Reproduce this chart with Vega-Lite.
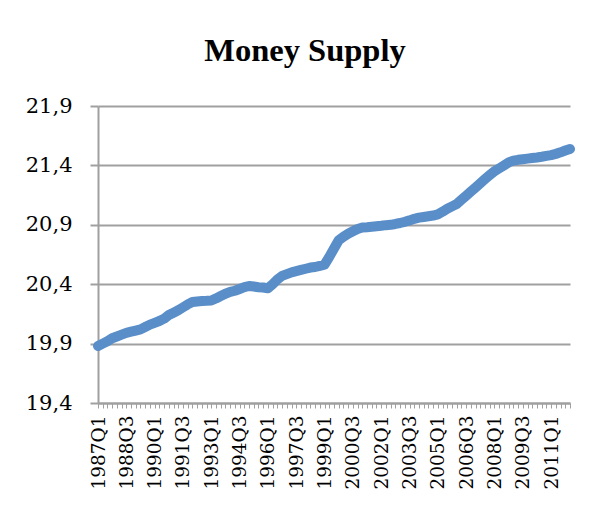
{
  "$schema": "https://vega.github.io/schema/vega-lite/v6.json",
  "autosize": {"type": "none"},
  "padding": {"left": 98, "top": 106, "right": 29, "bottom": 103},
  "width": 472,
  "height": 297,
  "background": "white",
  "title": {
    "text": "Money Supply",
    "font": "Liberation Serif",
    "fontSize": 32.5,
    "fontWeight": "bold",
    "color": "black",
    "anchor": "middle",
    "baseline": "alphabetic",
    "offset": 2,
    "dx": -29
  },
  "config": {"view": {"stroke": null}},
  "data": {
    "values": [
      {"quarter": "1987Q1", "value": 19.88},
      {"quarter": "1987Q2", "value": 19.9},
      {"quarter": "1987Q3", "value": 19.92},
      {"quarter": "1987Q4", "value": 19.945},
      {"quarter": "1988Q1", "value": 19.96},
      {"quarter": "1988Q2", "value": 19.975},
      {"quarter": "1988Q3", "value": 19.99},
      {"quarter": "1988Q4", "value": 20.0},
      {"quarter": "1989Q1", "value": 20.01},
      {"quarter": "1989Q2", "value": 20.02},
      {"quarter": "1989Q3", "value": 20.04},
      {"quarter": "1989Q4", "value": 20.06},
      {"quarter": "1990Q1", "value": 20.075},
      {"quarter": "1990Q2", "value": 20.09},
      {"quarter": "1990Q3", "value": 20.11},
      {"quarter": "1990Q4", "value": 20.14},
      {"quarter": "1991Q1", "value": 20.16},
      {"quarter": "1991Q2", "value": 20.18},
      {"quarter": "1991Q3", "value": 20.205},
      {"quarter": "1991Q4", "value": 20.23},
      {"quarter": "1992Q1", "value": 20.25},
      {"quarter": "1992Q2", "value": 20.255},
      {"quarter": "1992Q3", "value": 20.258},
      {"quarter": "1992Q4", "value": 20.26},
      {"quarter": "1993Q1", "value": 20.263},
      {"quarter": "1993Q2", "value": 20.28},
      {"quarter": "1993Q3", "value": 20.3},
      {"quarter": "1993Q4", "value": 20.32},
      {"quarter": "1994Q1", "value": 20.335},
      {"quarter": "1994Q2", "value": 20.345},
      {"quarter": "1994Q3", "value": 20.36},
      {"quarter": "1994Q4", "value": 20.375},
      {"quarter": "1995Q1", "value": 20.385},
      {"quarter": "1995Q2", "value": 20.38},
      {"quarter": "1995Q3", "value": 20.375},
      {"quarter": "1995Q4", "value": 20.372},
      {"quarter": "1996Q1", "value": 20.365},
      {"quarter": "1996Q2", "value": 20.4},
      {"quarter": "1996Q3", "value": 20.44},
      {"quarter": "1996Q4", "value": 20.47},
      {"quarter": "1997Q1", "value": 20.485},
      {"quarter": "1997Q2", "value": 20.5},
      {"quarter": "1997Q3", "value": 20.51},
      {"quarter": "1997Q4", "value": 20.52},
      {"quarter": "1998Q1", "value": 20.53},
      {"quarter": "1998Q2", "value": 20.54},
      {"quarter": "1998Q3", "value": 20.545},
      {"quarter": "1998Q4", "value": 20.555},
      {"quarter": "1999Q1", "value": 20.565},
      {"quarter": "1999Q2", "value": 20.63},
      {"quarter": "1999Q3", "value": 20.7},
      {"quarter": "1999Q4", "value": 20.77},
      {"quarter": "2000Q1", "value": 20.8},
      {"quarter": "2000Q2", "value": 20.825},
      {"quarter": "2000Q3", "value": 20.845},
      {"quarter": "2000Q4", "value": 20.865},
      {"quarter": "2001Q1", "value": 20.877},
      {"quarter": "2001Q2", "value": 20.88},
      {"quarter": "2001Q3", "value": 20.884},
      {"quarter": "2001Q4", "value": 20.888},
      {"quarter": "2002Q1", "value": 20.892},
      {"quarter": "2002Q2", "value": 20.897},
      {"quarter": "2002Q3", "value": 20.9},
      {"quarter": "2002Q4", "value": 20.907},
      {"quarter": "2003Q1", "value": 20.915},
      {"quarter": "2003Q2", "value": 20.925},
      {"quarter": "2003Q3", "value": 20.937},
      {"quarter": "2003Q4", "value": 20.95},
      {"quarter": "2004Q1", "value": 20.96},
      {"quarter": "2004Q2", "value": 20.966},
      {"quarter": "2004Q3", "value": 20.972},
      {"quarter": "2004Q4", "value": 20.978},
      {"quarter": "2005Q1", "value": 20.988},
      {"quarter": "2005Q2", "value": 21.01},
      {"quarter": "2005Q3", "value": 21.035},
      {"quarter": "2005Q4", "value": 21.055},
      {"quarter": "2006Q1", "value": 21.075},
      {"quarter": "2006Q2", "value": 21.11},
      {"quarter": "2006Q3", "value": 21.145},
      {"quarter": "2006Q4", "value": 21.18},
      {"quarter": "2007Q1", "value": 21.215},
      {"quarter": "2007Q2", "value": 21.25},
      {"quarter": "2007Q3", "value": 21.285},
      {"quarter": "2007Q4", "value": 21.32},
      {"quarter": "2008Q1", "value": 21.35},
      {"quarter": "2008Q2", "value": 21.375},
      {"quarter": "2008Q3", "value": 21.4},
      {"quarter": "2008Q4", "value": 21.425},
      {"quarter": "2009Q1", "value": 21.44},
      {"quarter": "2009Q2", "value": 21.447},
      {"quarter": "2009Q3", "value": 21.452},
      {"quarter": "2009Q4", "value": 21.457},
      {"quarter": "2010Q1", "value": 21.462},
      {"quarter": "2010Q2", "value": 21.467},
      {"quarter": "2010Q3", "value": 21.473},
      {"quarter": "2010Q4", "value": 21.48},
      {"quarter": "2011Q1", "value": 21.487},
      {"quarter": "2011Q2", "value": 21.497},
      {"quarter": "2011Q3", "value": 21.51},
      {"quarter": "2011Q4", "value": 21.525},
      {"quarter": "2012Q1", "value": 21.538}
    ]
  },
  "mark": {
    "type": "line",
    "color": "#5a8ec8",
    "strokeWidth": 10,
    "strokeCap": "round",
    "strokeJoin": "round"
  },
  "encoding": {
    "x": {
      "field": "quarter",
      "type": "ordinal",
      "sort": null,
      "scale": {"type": "point", "padding": 0},
      "title": null,
      "axis": {
        "labelAngle": -90,
        "labelFont": "DejaVu Serif",
        "labelFontSize": 18.5,
        "labelColor": "black",
        "labelPadding": 7,
        "labelOverlap": false,
        "labelExpr": "((substring(datum.label,4)=='Q1' && (toNumber(substring(datum.label,0,4))-1987)%3==0) || (substring(datum.label,4)=='Q3' && (toNumber(substring(datum.label,0,4))-1988)%3==0)) ? datum.label : ''",
        "domainColor": "#a0a0a0",
        "domainWidth": 2,
        "tickColor": "#a0a0a0",
        "tickWidth": 1,
        "tickSize": 5,
        "grid": false
      }
    },
    "y": {
      "field": "value",
      "type": "quantitative",
      "scale": {"domain": [19.4, 21.9], "nice": false, "zero": false},
      "title": null,
      "axis": {
        "values": [19.4, 19.9, 20.4, 20.9, 21.4, 21.9],
        "labelExpr": "replace(format(datum.value, '.1f'), '.', ',')",
        "labelFont": "DejaVu Serif",
        "labelFontSize": 21,
        "labelColor": "black",
        "labelPadding": 18,
        "domainColor": "#a0a0a0",
        "domainWidth": 2,
        "tickColor": "#a0a0a0",
        "tickWidth": 2,
        "tickSize": 8,
        "gridColor": "#a0a0a0",
        "gridWidth": 2,
        "gridOpacity": 1
      }
    }
  }
}
